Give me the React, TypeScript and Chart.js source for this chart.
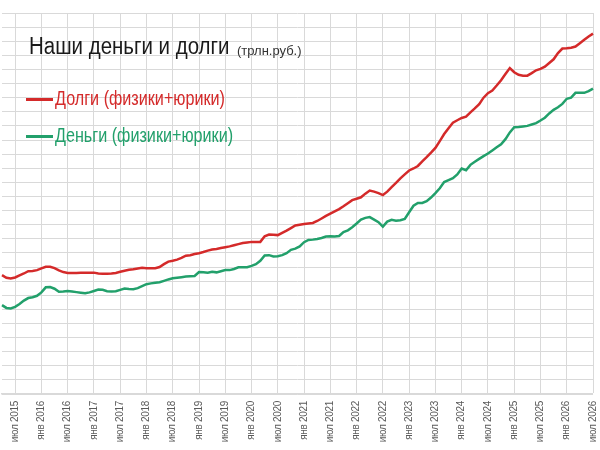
import { useEffect, useRef } from 'react'
import { Chart, registerables } from 'chart.js'

Chart.register(...registerables)

const MONTH_NAMES = ['янв', 'фев', 'мар', 'апр', 'май', 'июн', 'июл', 'авг', 'сен', 'окт', 'ноя', 'дек']
const START_YEAR = 2015
const START_MONTH = 3 // апр 2015

// трлн. руб., помесячно
const debts = [
  42.1, 41.2, 40.9, 41.3, 42.0, 42.7, 43.5, 43.6, 43.9, 44.5,
  45.1, 45.1, 44.6, 43.8, 43.2, 42.9, 42.9, 42.9, 43.0, 43.0,
  43.0, 43.0, 42.7, 42.6, 42.6, 42.7, 42.9, 43.3, 43.7, 44.0,
  44.2, 44.5, 44.7, 44.6, 44.6, 44.6, 45.0, 46.0, 46.9, 47.2,
  47.6, 48.2, 49.0, 49.2, 49.6, 49.9, 50.3, 50.8, 51.2, 51.4,
  51.7, 52.0, 52.3, 52.7, 53.1, 53.5, 53.7, 53.9, 53.9, 53.9,
  55.9, 56.5, 56.4, 56.3, 57.1, 57.9, 58.8, 59.7, 60.0, 60.2,
  60.4, 60.6, 61.3, 62.2, 63.1, 63.9, 64.7, 65.5, 66.5, 67.6,
  68.7, 69.2, 69.7, 71.0, 72.1, 71.7, 71.2, 70.5, 71.7, 73.3,
  74.8, 76.4, 77.8, 79.2, 79.9, 80.8, 82.4, 83.9, 85.5, 87.2,
  89.6, 92.1, 94.2, 96.1, 97.0, 97.8, 98.3, 99.8, 101.2, 102.7,
  105.0, 106.6, 107.5, 109.3, 111.2, 113.4, 115.5, 114.0, 113.1, 112.8,
  112.8, 113.7, 114.7, 115.2, 116.0, 117.3, 118.6, 120.8, 122.4, 122.5,
  122.7, 123.1, 124.3, 125.5, 126.7, 127.7
]

const money = [
  31.5, 30.5, 30.3, 30.9, 31.9, 33.1, 34.0, 34.3, 34.8, 36.0,
  37.8, 37.9, 37.3, 36.2, 36.3, 36.5, 36.3, 36.1, 35.9, 35.7,
  36.0, 36.5, 37.0, 36.9, 36.4, 36.3, 36.4, 36.9, 37.4, 37.2,
  37.1, 37.5, 38.2, 38.9, 39.2, 39.4, 39.6, 40.1, 40.6, 41.0,
  41.2, 41.4, 41.6, 41.7, 41.8, 43.2, 43.1, 43.0, 43.3, 43.1,
  43.5, 43.9, 43.9, 44.3, 44.9, 44.9, 44.9, 45.4, 46.0, 47.2,
  49.1, 49.2, 48.7, 48.8, 49.2, 49.9, 51.1, 51.5, 52.3, 53.8,
  54.6, 54.7, 54.9, 55.3, 55.8, 55.9, 55.8, 56.0, 57.4, 58.0,
  59.1, 60.4, 61.8, 62.4, 62.7, 61.8, 60.9, 59.3, 61.1, 61.7,
  61.4, 61.6, 62.0, 64.4, 66.7, 67.7, 67.7, 68.3, 69.6, 71.2,
  72.9, 75.1, 75.8, 76.5, 77.8, 79.9, 79.3, 81.2, 82.3, 83.3,
  84.3, 85.2, 86.3, 87.4, 88.5, 90.3, 92.7, 94.5, 94.6, 94.8,
  95.0, 95.5, 96.0, 96.9, 97.9, 99.4, 100.7, 101.6, 102.8, 104.6,
  105.0, 106.7, 106.7, 106.7, 107.3, 108.2
]

const months = debts.map((_, i) => {
  const m = START_MONTH + i
  return `${MONTH_NAMES[m % 12]} ${START_YEAR + Math.floor(m / 12)}`
})

const isShown = (label: string) => label.startsWith('янв') || label.startsWith('июл')

const RED = '#d42a2a'
const GREEN = '#22a06b'
const GRID = '#d9d9d9'

// slightly tighter tick text, the original uses a narrow face
const tightText = {
  id: 'tightText',
  beforeDraw: (chart: Chart) => {
    ;(chart.ctx as any).letterSpacing = '-0.3px'
  },
  afterDraw: (chart: Chart) => {
    ;(chart.ctx as any).letterSpacing = '0px'
  }
}

const legendText = (color: string): React.CSSProperties => ({
  position: 'absolute',
  left: 55,
  font: "21px 'Liberation Sans', Arial",
  lineHeight: 1,
  color,
  whiteSpace: 'nowrap',
  transform: 'scaleX(0.77)',
  transformOrigin: 'left'
})

export default function App() {
  const chartRef = useRef<HTMLCanvasElement>(null)
  const chartInstance = useRef<Chart | null>(null)

  useEffect(() => {
    if (!chartRef.current) return
    if (chartInstance.current) chartInstance.current.destroy()

    chartInstance.current = new Chart(chartRef.current, {
      type: 'line',
      data: {
        labels: months,
        datasets: [
          {
            label: 'Долги (физики+юрики)',
            data: debts,
            borderColor: RED,
            borderWidth: 2.5,
            pointRadius: 0,
            tension: 0
          },
          {
            label: 'Деньги (физики+юрики)',
            data: money,
            borderColor: GREEN,
            borderWidth: 2.5,
            pointRadius: 0,
            tension: 0
          }
        ]
      },
      options: {
        responsive: false,
        animation: false,
        layout: { padding: { left: 2, right: 7, top: 13, bottom: 0 } },
        plugins: {
          legend: { display: false },
          tooltip: { enabled: false }
        },
        scales: {
          x: {
            offset: false,
            grid: {
              color: GRID,
              // only half-year lines, like the labels
              lineWidth: (ctx: any) => (isShown(months[ctx.index] ?? '') ? 1 : 0),
              drawTicks: false
            },
            border: { color: GRID, width: 1.5 },
            ticks: {
              autoSkip: false,
              minRotation: 90,
              maxRotation: 90,
              padding: 7,
              color: '#5a5a5a',
              font: { family: "'Liberation Sans', Arial", size: 10 },
              callback: (_v, i) => (isShown(months[i]) ? months[i] : '')
            },
            afterFit: (scale: any) => {
              scale.height = 56
              scale.paddingLeft = 0
              scale.paddingRight = 0
            }
          },
          y: {
            min: 0,
            max: 135,
            ticks: { display: false, stepSize: 5 },
            grid: { color: GRID, drawTicks: false },
            border: { display: false },
            afterFit: (scale) => {
              scale.width = 0
            }
          }
        }
      },
      plugins: [tightText]
    })

    return () => {
      if (chartInstance.current) {
        chartInstance.current.destroy()
        chartInstance.current = null
      }
    }
  }, [])

  return (
    <div style={{ position: 'fixed', left: 0, top: 0, width: 600, height: 450, background: '#fff' }}>
      <canvas ref={chartRef} width={600} height={450} style={{ position: 'absolute', left: 0, top: 0 }} />
      <div
        style={{
          position: 'absolute',
          left: 29,
          top: 35,
          font: "23px 'Liberation Sans', Arial",
          lineHeight: 1,
          color: '#1a1a1a',
          whiteSpace: 'nowrap',
          transform: 'scaleX(0.89)',
          transformOrigin: 'left'
        }}
      >
        Наши деньги и долги
      </div>
      <div
        style={{
          position: 'absolute',
          left: 237,
          top: 44,
          font: "13px 'Liberation Sans', Arial",
          lineHeight: 1,
          color: '#333',
          whiteSpace: 'nowrap'
        }}
      >
        (трлн.руб.)
      </div>
      <div style={{ position: 'absolute', left: 26, top: 98, width: 27, height: 2.5, background: RED }} />
      <div style={{ ...legendText(RED), top: 87 }}>Долги (физики+юрики)</div>
      <div style={{ position: 'absolute', left: 26, top: 135, width: 27, height: 2.5, background: GREEN }} />
      <div style={{ ...legendText(GREEN), top: 124 }}>Деньги (физики+юрики)</div>
    </div>
  )
}
